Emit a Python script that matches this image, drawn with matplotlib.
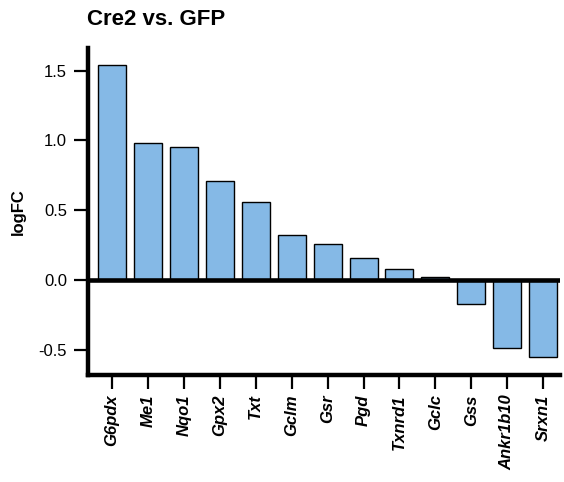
import numpy as np
import matplotlib
matplotlib.use("Agg")
import matplotlib.pyplot as plt

plt.rcParams['font.family'] = ['Liberation Sans', 'DejaVu Sans']

# gene names and logFC values (Cre2 vs. GFP)
genes = ['G6pdx', 'Me1', 'Nqo1', 'Gpx2', 'Txt', 'Gclm', 'Gsr', 'Pgd',
         'Txnrd1', 'Gclc', 'Gss', 'Ankr1b10', 'Srxn1']
logfc = [1.54, 0.98, 0.95, 0.71, 0.56, 0.32, 0.26, 0.16,
         0.08, 0.025, -0.17, -0.49, -0.55]
yticks = [-0.5, 0.0, 0.5, 1.0, 1.5]

fig = plt.figure(figsize=(5.64, 4.82), dpi=100)
ax = fig.add_axes([0.156, 0.222, 0.837, 0.678])

x = np.arange(len(genes))
ax.bar(x, logfc, width=0.78, color='#85B9E6', edgecolor='black', linewidth=1.0, zorder=2)
ax.axhline(0, color='black', linewidth=3.3, zorder=3)

ax.set_xlim(-0.67, 12.47)
ax.set_ylim(-0.68, 1.66)
ax.set_yticks(yticks)
ax.set_yticklabels([f'{v:.1f}' for v in yticks], fontsize=12)
ax.set_xticks(x)
ax.set_xticklabels(genes, rotation=90, fontsize=12, fontweight='bold', fontstyle='italic')

for side in ['top', 'right']:
    ax.spines[side].set_visible(False)
for side in ['left', 'bottom']:
    ax.spines[side].set_linewidth(3.2)
ax.tick_params(axis='both', direction='out', length=10, width=1.6, colors='black')
ax.tick_params(axis='y', pad=5)
ax.tick_params(axis='x', pad=4)

ax.set_ylabel('logFC', fontsize=12, fontweight='bold', labelpad=9)
fig.text(0.154, 0.96, 'Cre2 vs. GFP', fontsize=16, fontweight='bold', va='center', ha='left')

fig.savefig('out.png', dpi=100)
